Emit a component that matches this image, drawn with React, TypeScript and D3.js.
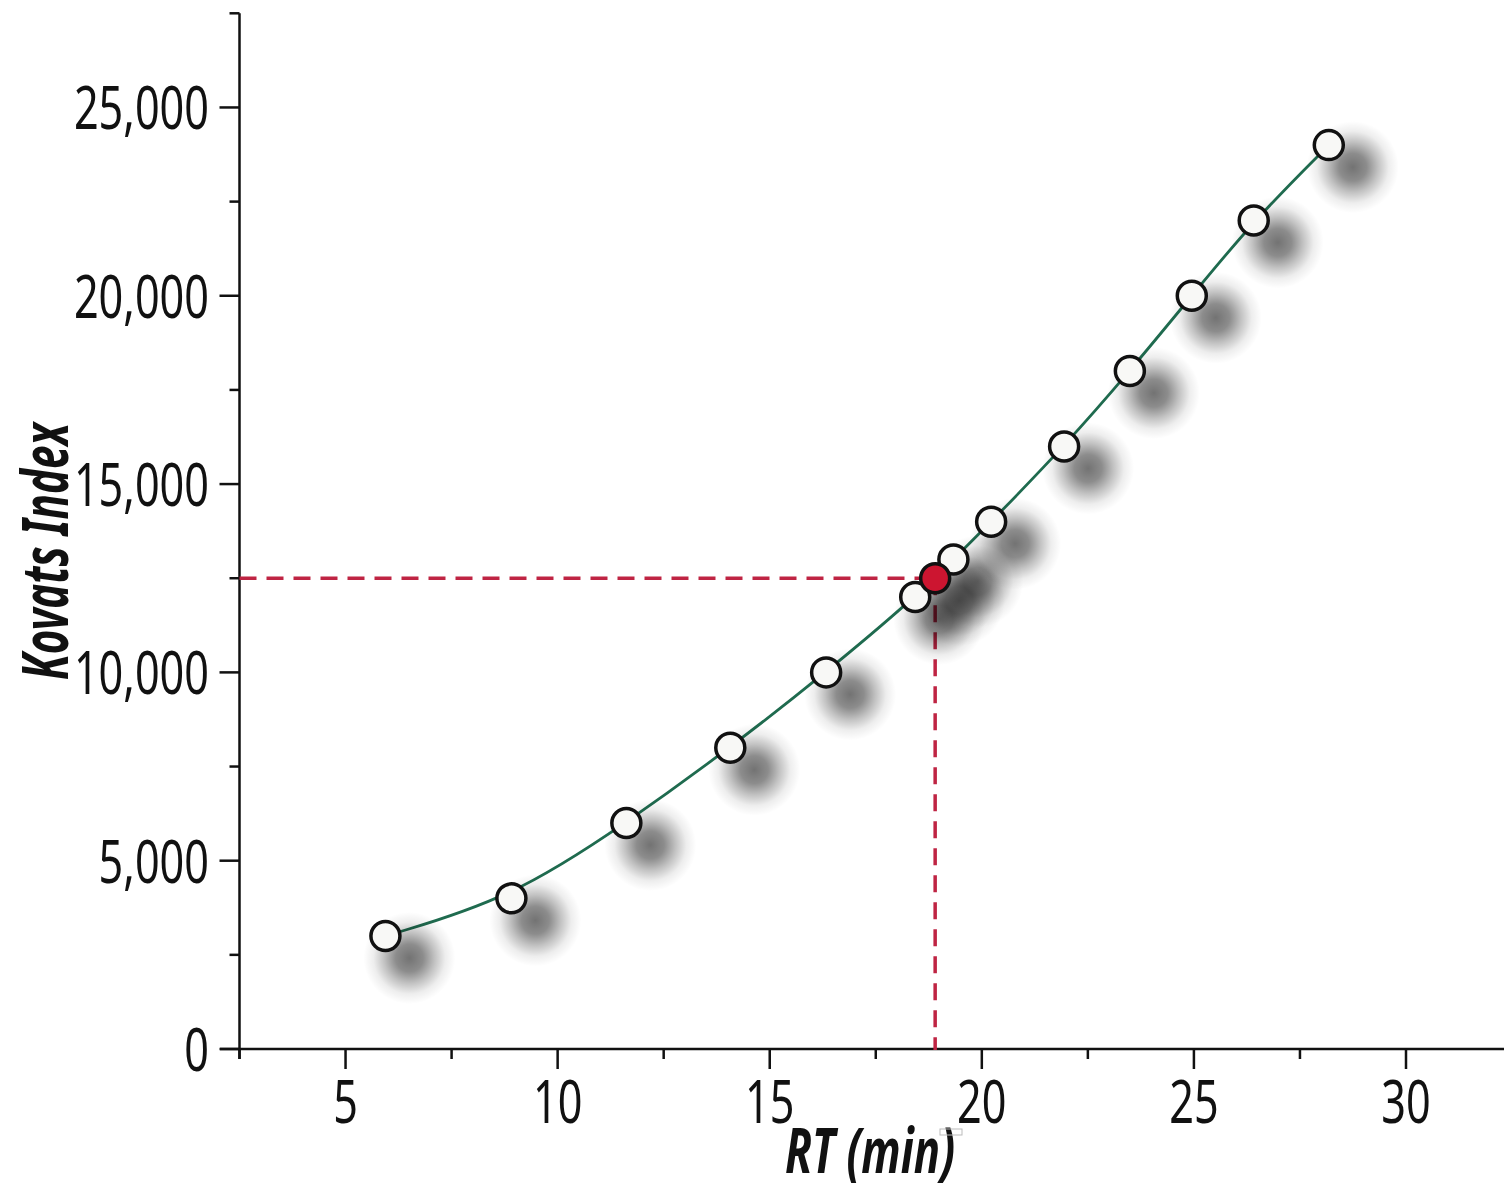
import React from "react";
import * as d3 from "d3";

const rtValues = [5.94, 8.91, 11.62, 14.07, 16.33, 18.43, 19.33, 20.22, 21.94, 23.49, 24.95, 26.41, 28.18];
const kovatsValues = [3000, 4000, 6000, 8000, 10000, 12000, 13000, 14000, 16000, 18000, 20000, 22000, 24000];
const unknownRT = 18.9;
const unknownKovats = 12500;
const xMajorTicks = [5, 10, 15, 20, 25, 30];
const xMinorTicks = [2.5, 7.5, 12.5, 17.5, 22.5, 27.5];
const yMajorTicks = [0, 5000, 10000, 15000, 20000, 25000];
const yMinorTicks = [2500, 7500, 12500, 17500, 22500, 27500];

const W = 1504;
const H = 1187;
const FONT = "'Noto Sans', 'Open Sans', sans-serif";

export default function App() {
  const x = d3.scaleLinear().domain([2.5, 30]).range([239.5, 1406]);
  const y = d3.scaleLinear().domain([0, 27500]).range([1049, 13.3]);
  const pts = rtValues.map((r, i) => [r, kovatsValues[i]] as [number, number]);
  const line = d3
    .line<[number, number]>()
    .x((d) => x(d[0]))
    .y((d) => y(d[1]))
    .curve(d3.curveBasis);
  const fmt = d3.format(",");
  const axisColor = "#111";
  const redDash = "#bf2443";
  const xAxisY = y(0);
  const yAxisX = x(2.5);
  const numSX = 0.72;
  const sdx = 24;
  const sdy = 22;
  const allPts: [number, number][] = [...pts, [unknownRT, unknownKovats]];

  return (
    <svg
      width={W}
      height={H}
      style={{ position: "absolute", left: 0, top: 0, display: "block", background: "#fff" }}
    >
      <defs>
        <radialGradient id="shadowGrad" cx="50%" cy="50%" r="50%">
          <stop offset="0%" stopColor="#000" stopOpacity={0.55} />
          <stop offset="30%" stopColor="#000" stopOpacity={0.45} />
          <stop offset="55%" stopColor="#000" stopOpacity={0.24} />
          <stop offset="78%" stopColor="#000" stopOpacity={0.07} />
          <stop offset="100%" stopColor="#000" stopOpacity={0} />
        </radialGradient>
      </defs>

      {/* Axes */}
      <line x1={yAxisX} x2={yAxisX} y1={y(27500)} y2={xAxisY + 10} stroke={axisColor} strokeWidth={2.5} />
      <line x1={220} x2={W} y1={xAxisY} y2={xAxisY} stroke={axisColor} strokeWidth={2.5} />

      {yMajorTicks.map((t) => (
        <g key={"ym" + t}>
          <line x1={yAxisX - 20} x2={yAxisX} y1={y(t)} y2={y(t)} stroke={axisColor} strokeWidth={2.5} />
          <text
            transform={`translate(${209},${y(t) + 22}) scale(${numSX},1)`}
            textAnchor="end"
            fontFamily={FONT}
            fontSize={60}
            fill="#111"
          >
            {fmt(t)}
          </text>
        </g>
      ))}
      {yMinorTicks.map((t) => (
        <line key={"yn" + t} x1={yAxisX - 10} x2={yAxisX} y1={y(t)} y2={y(t)} stroke={axisColor} strokeWidth={2.5} />
      ))}
      {xMajorTicks.map((t) => (
        <g key={"xm" + t}>
          <line x1={x(t)} x2={x(t)} y1={xAxisY} y2={xAxisY + 20} stroke={axisColor} strokeWidth={2.5} />
          <text
            transform={`translate(${x(t)},${xAxisY + 74}) scale(${numSX},1)`}
            textAnchor="middle"
            fontFamily={FONT}
            fontSize={60}
            fill="#111"
          >
            {t}
          </text>
        </g>
      ))}
      {xMinorTicks.map((t) => (
        <line key={"xn" + t} x1={x(t)} x2={x(t)} y1={xAxisY} y2={xAxisY + 10} stroke={axisColor} strokeWidth={2.5} />
      ))}

      {/* Axis titles */}
      <text
        x={785}
        y={1173}
        textLength={170}
        lengthAdjust="spacingAndGlyphs"
        fontFamily={FONT}
        fontWeight="bold"
        fontStyle="italic"
        fontSize={63}
        fill="#111"
      >
        RT (min)
      </text>
      <rect x={940} y={1129} width={22} height={6} fill="none" stroke="#bbb" strokeWidth={1} />
      <text
        transform={`translate(${68},${680}) rotate(-90)`}
        textLength={257}
        lengthAdjust="spacingAndGlyphs"
        fontFamily={FONT}
        fontWeight="bold"
        fontStyle="italic"
        fontSize={64}
        fill="#111"
      >
        Kovats Index
      </text>

      {/* Dashed guides */}
      <line
        x1={yAxisX}
        x2={x(unknownRT)}
        y1={y(unknownKovats)}
        y2={y(unknownKovats)}
        stroke={redDash}
        strokeWidth={3.5}
        strokeDasharray="17,10"
      />
      <line
        x1={x(unknownRT)}
        x2={x(unknownRT)}
        y1={y(unknownKovats)}
        y2={xAxisY + 1}
        stroke={redDash}
        strokeWidth={3.5}
        strokeDasharray="17,10"
      />

      {/* Curve */}
      <path d={line(pts) || ""} fill="none" stroke="#1f6b4f" strokeWidth={2.8} />

      {/* Shadows */}
      {allPts.map((p, i) => (
        <circle key={"s" + i} cx={x(p[0]) + sdx} cy={y(p[1]) + sdy} r={46} fill="url(#shadowGrad)" />
      ))}

      {/* Points */}
      {pts.map((p, i) => (
        <circle key={"p" + i} cx={x(p[0])} cy={y(p[1])} r={14.5} fill="#f8f8f6" stroke="#111" strokeWidth={3.5} />
      ))}
      <circle cx={x(unknownRT)} cy={y(unknownKovats)} r={14.5} fill="#cc1530" stroke="#111" strokeWidth={3.5} />
    </svg>
  );
}
